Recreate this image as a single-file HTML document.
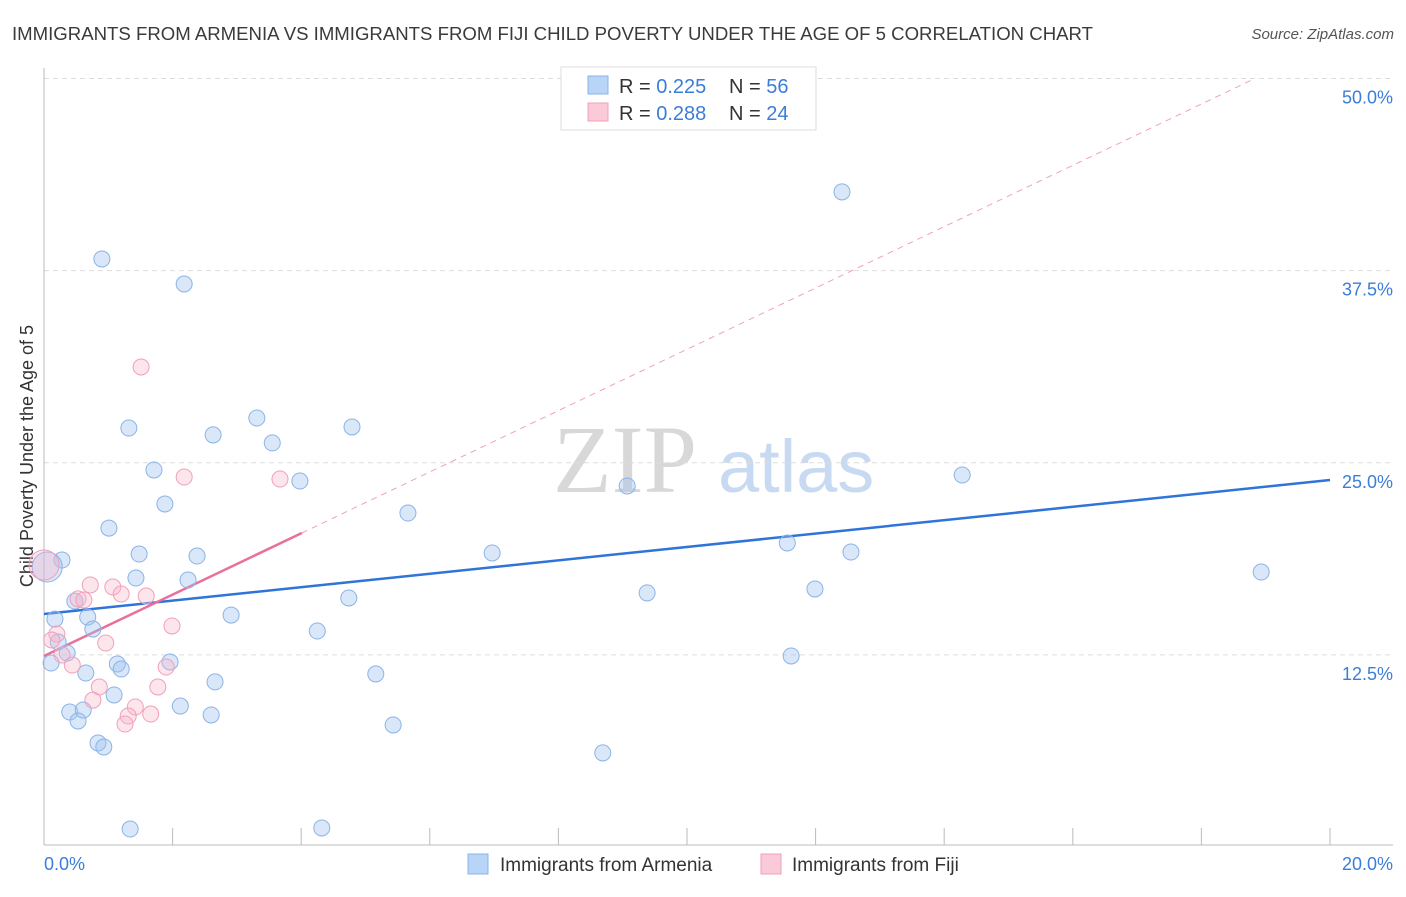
<!DOCTYPE html>
<html><head><meta charset="utf-8">
<style>
body{margin:0;background:#fff;font-family:"Liberation Sans",sans-serif;}
svg text{font-family:"Liberation Sans",sans-serif;}
</style></head>
<body>
<svg id="chart" width="1406" height="892">
<text x="12" y="40" font-size="18.6" fill="#3a3a3a">IMMIGRANTS FROM ARMENIA VS IMMIGRANTS FROM FIJI CHILD POVERTY UNDER THE AGE OF 5 CORRELATION CHART</text>
<text x="1394" y="39" font-size="15" fill="#555" font-style="italic" text-anchor="end">Source: ZipAtlas.com</text>
<text x="0" y="0" transform="translate(33,456) rotate(-90)" font-size="18" fill="#333" text-anchor="middle">Child Poverty Under the Age of 5</text>
<g>
<text x="553" y="492" font-size="96" fill="#d8d8d8" style="font-family:'Liberation Serif',serif">ZIP</text>
<text x="718" y="492" font-size="74" fill="#c8daf2">atlas</text>
</g>
<g id="grid"></g>
<g id="axes"></g>
<g id="lines"></g>
<g id="points"></g>
<g>
<rect x="561" y="67" width="255" height="63" fill="#fff" stroke="#ddd"/>
<rect x="588" y="76" width="20" height="18" fill="#b8d4f6" stroke="#8ab4e8"/>
<text x="619" y="93" font-size="20" fill="#333">R = <tspan fill="#3b7dd8">0.225</tspan></text>
<text x="729" y="93" font-size="20" fill="#333">N = <tspan fill="#3b7dd8">56</tspan></text>
<rect x="588" y="103" width="20" height="18" fill="#fbcad8" stroke="#f0a0bb"/>
<text x="619" y="120" font-size="20" fill="#333">R = <tspan fill="#3b7dd8">0.288</tspan></text>
<text x="729" y="120" font-size="20" fill="#333">N = <tspan fill="#3b7dd8">24</tspan></text>
</g>
<g>
<rect x="468" y="854" width="20" height="20" fill="#b8d4f6" stroke="#8ab4e8"/>
<text x="500" y="871" font-size="19" fill="#333">Immigrants from Armenia</text>
<rect x="761" y="854" width="20" height="20" fill="#fbcad8" stroke="#f0a0bb"/>
<text x="792" y="871" font-size="19" fill="#333">Immigrants from Fiji</text>
</g>
</svg>
<script>
const armeniaX=[0.90,2.18,12.41,1.32,2.63,3.31,3.55,4.79,1.71,3.98,1.88,1.01,5.66,9.07,14.28,1.48,2.38,0.28,6.97,11.56,12.55,18.93,1.43,2.24,9.38,11.99,0.48,4.74,0.17,0.68,2.91,0.76,4.25,0.22,0.36,1.96,1.14,1.20,0.11,0.65,5.16,2.66,1.09,2.12,0.40,0.61,2.60,0.53,5.43,0.84,0.93,8.69,11.62,1.34,4.32,0.05];
const armeniaY=[38.26,36.63,42.62,27.26,26.81,27.91,26.29,27.33,24.53,23.81,22.32,20.75,21.73,23.49,24.20,19.06,18.93,18.67,19.13,19.78,19.19,17.89,17.50,17.37,16.53,16.79,16.00,16.20,14.83,14.96,15.09,14.18,14.05,13.34,12.62,12.04,11.91,11.58,11.97,11.32,11.26,10.74,9.89,9.17,8.78,8.91,8.59,8.20,7.94,6.77,6.51,6.12,12.43,1.17,1.24,18.22];
const fijiX=[1.51,2.18,3.67,0.72,1.07,1.20,1.59,0.53,0.62,1.99,0.20,0.12,0.96,0.28,0.44,1.90,0.86,1.77,0.76,1.42,1.31,1.66,1.26,0.0];
const fijiY=[31.23,24.07,23.94,17.05,16.92,16.46,16.33,16.14,16.07,14.38,13.86,13.47,13.27,12.49,11.84,11.71,10.41,10.41,9.56,9.11,8.52,8.65,8.00,18.35];
const armeniaTrend=[15.16,23.88]; // y at x=0 and x=20
const fijiTrend=[12.43,20.43,4.01]; // y at 0, y at end, solid end x
const yTicks=[12.5,25.0,37.5,50.0];
const yTickLabels=["12.5%","25.0%","37.5%","50.0%"];
const xTicks=[0,2,4,6,8,10,12,14,16,18,20];
const NS="http://www.w3.org/2000/svg";
const X0=44,X1=1330,Y0=847,YS=15.37;
const sx=v=>X0+v*(X1-X0)/20;
const sy=v=>Y0-v*YS;
function mk(tag,attrs,parent){const e=document.createElementNS(NS,tag);for(const k in attrs)e.setAttribute(k,attrs[k]);document.getElementById(parent).appendChild(e);return e;}
yTicks.forEach((t,i)=>{
 const l=mk('line',{x1:44,x2:1393,y1:sy(t),y2:sy(t),stroke:'#ddd','stroke-dasharray':'5,4'},'grid');
 
 
 const tx=mk('text',{x:1393,y:sy(t)+25,'font-size':18,fill:'#3b7dd8','text-anchor':'end'},'grid');
 tx.textContent=yTickLabels[i];
 
 
});
const ya=mk('line',{x1:44,x2:44,y1:68,y2:845,stroke:'#bbb'},'axes');


const xa=mk('line',{x1:44,x2:1393,y1:845,y2:845,stroke:'#bbb'},'axes');


xTicks.forEach(t=>{
 const l=mk('line',{x1:sx(t),x2:sx(t),y1:828,y2:845,stroke:'#bbb'},'axes');
 
 
});
const xl0=mk('text',{x:44,y:870,'font-size':18,fill:'#3b7dd8'},'axes');xl0.textContent='0.0%';


const xl1=mk('text',{x:1393,y:870,'font-size':18,fill:'#3b7dd8','text-anchor':'end'},'axes');xl1.textContent='20.0%';


const fs=(fijiTrend[1]-fijiTrend[0])/fijiTrend[2];
const xEnd=(50-fijiTrend[0])/fs;
const fd=mk('line',{x1:sx(fijiTrend[2]),y1:sy(fijiTrend[1]),x2:sx(xEnd),y2:sy(50),stroke:'#f0a0bb','stroke-width':1,'stroke-dasharray':'6,5'},'lines');


const at=mk('line',{x1:sx(0),y1:sy(armeniaTrend[0]),x2:sx(20),y2:sy(armeniaTrend[1]),stroke:'#2f74d8','stroke-width':2.5},'lines');


const ft=mk('line',{x1:sx(0),y1:sy(fijiTrend[0]),x2:sx(fijiTrend[2]),y2:sy(fijiTrend[1]),stroke:'#e8709a','stroke-width':2.5},'lines');


armeniaX.forEach((x,i)=>{
 const big=i===armeniaX.length-1;
 const c=mk('circle',{cx:sx(x),cy:sy(armeniaY[i]),r:big?15:8,fill:'rgba(160,196,240,0.4)',stroke:'#8ab4e8','stroke-width':1},'points');
 
 
});
fijiX.forEach((x,i)=>{
 const big=i===fijiX.length-1;
 const c=mk('circle',{cx:sx(x),cy:sy(fijiY[i]),r:big?15:8,fill:'rgba(248,180,200,0.35)',stroke:'#f0a0bb','stroke-width':1},'points');
 
 
});
</script>
</body></html>
